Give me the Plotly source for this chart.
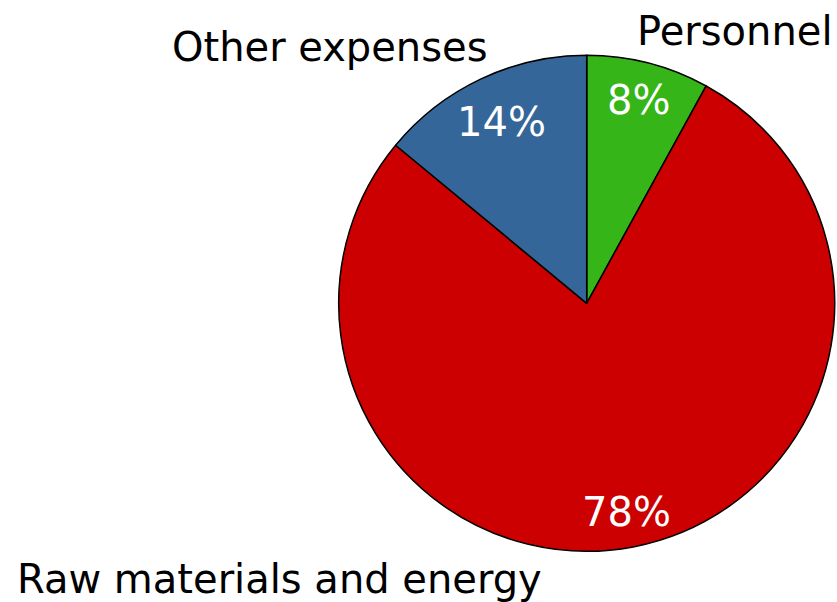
import math
import plotly.graph_objects as go

categories = ["Personnel", "Raw materials and energy", "Other expenses"]
values = [8, 78, 14]
colors = ["#36b519", "#cc0000", "#356699"]

W, H = 837, 602
cx, cy, r = 586.7, 303.3, 248

fig = go.Figure(go.Pie(
    labels=categories,
    values=values,
    sort=False,
    direction="clockwise",
    rotation=0,
    marker=dict(colors=colors, line=dict(color="black", width=1.5)),
    textinfo="none",
    showlegend=False,
    hoverinfo="label+percent",
    domain=dict(x=[(cx - r) / W, (cx + r) / W], y=[1 - (cy + r) / H, 1 - (cy - r) / H]),
))

# percentage labels placed inside each slice along its mid-angle
radial = {"Personnel": 0.847, "Raw materials and energy": 0.855, "Other expenses": 0.806}
total = sum(values)
cum = 0
for name, v in zip(categories, values):
    mid = (cum + v / 2) / total * 2 * math.pi  # clockwise from top
    cum += v
    rr = r * radial[name]
    px = cx + rr * math.sin(mid)
    py = cy - rr * math.cos(mid)
    fig.add_annotation(
        x=px / W, y=1 - py / H, xref="paper", yref="paper",
        xanchor="center", yanchor="middle", showarrow=False,
        text=f"{round(v / total * 100)}%",
        font=dict(family="DejaVu Sans", size=40, color="white"),
    )

# category labels outside the pie (left edge, cap-center y)
label_pos = {
    "Personnel": (638, 31),
    "Other expenses": (173, 47),
    "Raw materials and energy": (18, 579),
}
for name in categories:
    x0, y0 = label_pos[name]
    fig.add_annotation(
        x=(x0 - 3) / W, y=1 - y0 / H, xref="paper", yref="paper",
        xanchor="left", yanchor="middle", showarrow=False,
        text=name, font=dict(family="DejaVu Sans", size=40, color="black"),
    )

fig.update_layout(
    width=W, height=H,
    margin=dict(l=0, r=0, t=0, b=0),
    paper_bgcolor="white", plot_bgcolor="white",
)
fig.write_html(
    "out.html",
    config={"displayModeBar": False},
    post_script="document.body.style.margin='0';document.body.style.overflow='hidden';",
)
